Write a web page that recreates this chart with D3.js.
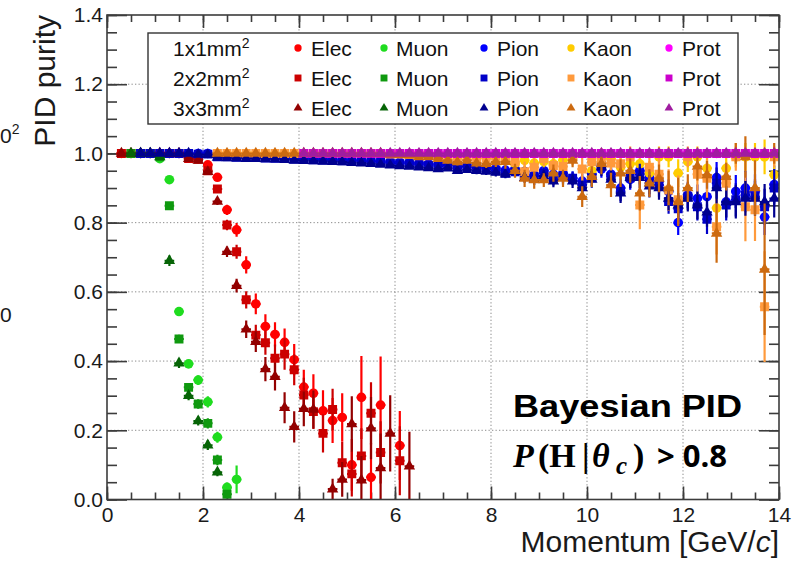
<!DOCTYPE html>
<html>
<head>
<meta charset="utf-8">
<script src="https://cdn.jsdelivr.net/npm/d3@7"></script>
<style>
  html, body { margin: 0; padding: 0; background: #fff; }
  svg { display: block; }
  text { font-family: "Liberation Sans", Arial, Helvetica, sans-serif; }
</style>
</head>
<body>
<svg id="chart" width="794" height="562"></svg>
<script>
// ---- Momentum bins (bin centres, GeV/c) ----
const momentum = [0.3,0.5,0.7,0.9,1.1,1.3,1.5,1.7,1.9,2.1,
  2.3,2.5,2.7,2.9,3.1,3.3,3.5,3.7,3.9,4.1,
  4.3,4.5,4.7,4.9,5.1,5.3,5.5,5.7,5.9,6.1,
  6.3,6.5,6.7,6.9,7.1,7.3,7.5,7.7,7.9,8.1,
  8.3,8.5,8.7,8.9,9.1,9.3,9.5,9.7,9.9,10.1,
  10.3,10.5,10.7,10.9,11.1,11.3,11.5,11.7,11.9,12.1,
  12.3,12.5,12.7,12.9,13.1,13.3,13.5,13.7,13.9];
const binWidth = 0.2;

const particles = ["Elec", "Muon", "Pion", "Kaon", "Prot"];
const pixelSizes = ["1x1", "2x2", "3x3"];

// ---- Electron purity ----
const elec1x1 = [1,1,1,1,1,1,1,0.99,0.985,0.967,
  0.931,0.837,0.779,0.678,0.565,0.50,0.477,0.454,0.404,0.325,
  0.307,0.256,0.228,0.237,0.10,0.295,0.064,0.273,null,0.156];
const elec1x1Err = [0,0,0,0,0,0,0,0.004,0.005,0.008,
  0.01,0.015,0.02,0.025,0.03,0.035,0.035,0.04,0.045,0.05,
  0.055,0.06,0.065,0.07,0.075,0.12,0.1,0.14,null,0.1];
const elec2x2 = [1,1,1,1,1,1,1,0.985,0.983,0.95,
  0.897,0.793,0.716,0.577,0.475,0.453,0.408,0.42,0.375,0.302,
  0.254,0.191,0.26,0.106,0.074,0.126,0.249,0.136,null,0.112];
const elec2x2Err = [0,0,0,0,0,0,0,0.004,0.005,0.008,
  0.01,0.015,0.02,0.025,0.03,0.035,0.04,0.045,0.045,0.05,
  0.05,0.055,0.06,0.06,0.065,0.08,0.09,0.09,null,0.1];
const elec3x3 = [1,1,1,1,1,1,1,0.985,0.98,0.947,
  0.861,0.716,0.618,0.492,0.456,0.377,0.355,0.265,0.21,0.262,
  0.26,null,0.03,0.058,0.218,0.056,0.206,0.091,0.191,null,
  0.096];
const elec3x3Err = [0,0,0,0,0,0,0,0.004,0.005,0.008,
  0.01,0.015,0.02,0.025,0.03,0.035,0.04,0.045,0.045,0.05,
  0.055,null,0.03,0.05,0.08,0.07,0.09,0.1,0.11,null,
  0.1];

// ---- Muon purity ----
const muon1x1 = [null,1,1,1,0.985,0.924,0.543,0.392,0.345,0.282,
  0.18,0.035,0.058];
const muon1x1Err = [null,0,0,0,0.004,0.008,0.012,0.012,0.014,0.016,
  0.016,0.014,0.04];
const muon2x2 = [null,1,1,1,0.99,0.849,0.464,0.324,0.276,0.22,
  0.114,0.015];
const muon2x2Err = [null,0,0,0,0.003,0.01,0.012,0.012,0.014,0.015,
  0.015,0.012];
const muon3x3 = [null,1,1,1,0.99,0.69,0.394,0.30,0.227,0.157,
  0.079];
const muon3x3Err = [null,0,0,0,0.003,0.015,0.014,0.013,0.013,0.014,
  0.012];

// ---- Pion purity ----
const pion1x1 = [null,null,1,1,1,1,1,1,1,1,
  0.995,0.993,0.992,0.991,0.99,0.99,0.989,0.988,0.987,0.986,
  0.985,0.984,0.983,0.982,0.981,0.98,0.979,0.978,0.976,0.975,
  0.973,0.972,0.97,0.968,0.967,0.965,0.963,0.962,0.96,0.957,
  0.952,0.955,0.948,0.938,0.95,0.94,0.942,0.928,0.92,0.94,
  0.955,0.94,0.9,0.925,0.95,0.93,0.92,0.89,0.80,0.88,
  0.87,0.875,0.93,0.86,0.89,0.9,0.89,0.816,0.91];
const pion1x1Err = [null,null,0.002,0.002,0.002,0.002,0.002,0.002,0.002,0.002,
  0.003,0.003,0.003,0.003,0.003,0.003,0.003,0.003,0.003,0.003,
  0.003,0.003,0.004,0.004,0.004,0.004,0.005,0.005,0.005,0.005,
  0.006,0.006,0.007,0.007,0.008,0.008,0.009,0.01,0.01,0.012,
  0.012,0.014,0.015,0.016,0.017,0.018,0.02,0.02,0.022,0.024,
  0.025,0.026,0.028,0.03,0.03,0.032,0.034,0.035,0.036,0.038,
  0.04,0.042,0.045,0.045,0.048,0.05,0.05,0.052,0.055];
const pion2x2 = [null,null,1,1,1,1,1,1,0.998,0.998,
  0.99,0.99,0.989,0.988,0.988,0.987,0.986,0.985,0.984,0.983,
  0.982,0.981,0.98,0.979,0.978,0.977,0.976,0.974,0.972,0.970,
  0.970,0.967,0.965,0.962,0.965,0.958,0.962,0.957,0.955,0.950,
  0.943,0.947,0.935,0.933,0.943,0.925,0.935,0.928,0.909,0.930,
  0.965,0.933,0.890,0.930,0.940,0.914,0.909,0.861,0.840,0.875,
  0.846,0.810,0.914,0.851,0.866,0.880,0.875,0.846,0.900];
const pion2x2Err = [null,null,0.002,0.002,0.002,0.002,0.002,0.002,0.002,0.002,
  0.003,0.003,0.003,0.003,0.003,0.003,0.003,0.003,0.003,0.003,
  0.003,0.003,0.004,0.004,0.004,0.004,0.005,0.005,0.005,0.005,
  0.006,0.006,0.007,0.007,0.008,0.008,0.009,0.01,0.01,0.012,
  0.012,0.014,0.015,0.016,0.017,0.018,0.02,0.02,0.022,0.024,
  0.025,0.026,0.028,0.03,0.03,0.032,0.034,0.035,0.036,0.038,
  0.04,0.043,0.045,0.045,0.048,0.05,0.05,0.052,0.055];
const pion3x3 = [null,null,1,1,1,1,1,1,0.997,0.996,
  0.988,0.987,0.986,0.985,0.985,0.984,0.983,0.982,0.98,0.979,
  0.978,0.977,0.976,0.975,0.973,0.972,0.97,0.968,0.966,0.964,
  0.962,0.96,0.958,0.955,0.957,0.95,0.953,0.95,0.948,0.945,
  0.94,0.947,0.93,0.925,0.935,0.92,0.93,0.92,0.9,0.925,
  0.96,0.925,0.885,0.93,0.93,0.905,0.9,0.87,0.85,0.87,
  0.85,0.83,0.9,0.86,0.86,0.87,0.87,0.86,0.87];
const pion3x3Err = [null,null,0.002,0.002,0.002,0.002,0.002,0.002,0.002,0.002,
  0.003,0.003,0.003,0.003,0.003,0.003,0.003,0.003,0.003,0.003,
  0.003,0.003,0.004,0.004,0.004,0.004,0.005,0.005,0.005,0.005,
  0.006,0.006,0.007,0.007,0.008,0.008,0.009,0.01,0.01,0.012,
  0.012,0.014,0.015,0.016,0.017,0.018,0.02,0.02,0.022,0.024,
  0.025,0.026,0.028,0.03,0.03,0.032,0.034,0.035,0.036,0.038,
  0.04,0.042,0.045,0.045,0.048,0.05,0.05,0.052,0.055];

// ---- Kaon purity ----
const kaon1x1 = [null,null,null,null,null,null,null,null,null,null,
  1,1,1,1,1,1,1,1,1,1,
  1,1,1,1,1,1,1,1,1,1,
  1,1,1,0.998,0.998,0.995,0.995,0.993,0.99,0.99,
  0.99,0.97,0.98,0.972,0.976,0.97,0.98,0.99,0.904,0.95,
  0.99,0.985,0.96,0.97,0.97,0.943,0.99,0.99,0.943,0.976,
  0.99,0.957,0.842,0.957,0.99,0.99,0.99,0.99,0.938];
const kaon1x1Err = [null,null,null,null,null,null,null,null,null,null,
  0.002,0.002,0.002,0.002,0.002,0.002,0.002,0.002,0.002,0.002,
  0.002,0.002,0.002,0.002,0.002,0.002,0.002,0.002,0.003,0.003,
  0.004,0.004,0.005,0.005,0.006,0.006,0.007,0.008,0.008,0.01,
  0.012,0.015,0.02,0.02,0.02,0.022,0.025,0.02,0.03,0.03,
  0.02,0.025,0.035,0.03,0.03,0.035,0.03,0.03,0.04,0.03,
  0.03,0.04,0.06,0.04,0.03,0.04,0.04,0.05,0.05];
const kaon2x2 = [null,null,null,null,null,null,null,null,null,null,
  1,1,1,1,1,1,1,1,1,1,
  1,1,1,1,1,1,1,1,0.998,0.998,
  0.997,0.995,0.995,0.993,0.99,0.985,0.99,0.985,0.986,0.99,
  0.98,0.976,0.947,0.96,0.985,0.965,0.962,0.986,0.955,0.976,
  0.985,0.972,0.97,0.99,0.851,0.96,0.94,0.894,0.866,0.99,
  0.94,0.928,0.788,0.914,0.99,0.846,0.837,0.557,0.99];
const kaon2x2Err = [null,null,null,null,null,null,null,null,null,null,
  0.002,0.002,0.002,0.002,0.002,0.002,0.002,0.002,0.002,0.002,
  0.002,0.002,0.002,0.002,0.002,0.002,0.002,0.002,0.004,0.004,
  0.005,0.006,0.006,0.007,0.008,0.01,0.01,0.012,0.012,0.012,
  0.015,0.018,0.03,0.025,0.02,0.025,0.03,0.02,0.035,0.03,
  0.03,0.035,0.04,0.03,0.07,0.05,0.05,0.06,0.07,0.03,
  0.06,0.06,0.08,0.06,0.04,0.1,0.09,0.16,0.03];
const kaon3x3 = [null,null,null,null,null,null,null,null,null,null,
  1,1,1,1,1,1,1,1,1,1,
  1,1,1,1,1,1,1,1,0.997,0.996,
  0.995,0.99,0.99,0.985,0.98,0.975,0.98,0.972,0.97,0.975,
  0.976,0.95,0.928,0.923,0.923,0.943,0.928,0.98,0.875,0.933,
  0.97,0.909,0.943,0.95,0.885,0.914,0.928,0.9,0.86,0.9,
  0.962,0.938,0.769,0.933,1,0.99,0.9,0.665,1];
const kaon3x3Err = [null,null,null,null,null,null,null,null,null,null,
  0.002,0.002,0.002,0.002,0.002,0.002,0.002,0.002,0.002,0.002,
  0.002,0.002,0.002,0.002,0.002,0.002,0.002,0.002,0.004,0.004,
  0.006,0.007,0.008,0.008,0.009,0.01,0.01,0.012,0.012,0.014,
  0.02,0.02,0.025,0.025,0.02,0.025,0.025,0.02,0.03,0.03,
  0.03,0.035,0.04,0.035,0.05,0.04,0.04,0.05,0.07,0.04,
  0.04,0.04,0.085,0.04,0.03,0.06,0.08,0.19,0.03];

// ---- Proton purity ----
const prot1x1 = [null,null,null,null,null,null,null,null,null,null,
  null,null,null,null,null,null,null,null,null,1,
  1,1,1,1,1,1,1,1,1,1,
  1,1,1,1,1,1,1,1,1,1,
  1,1,1,1,1,1,1,1,1,1,
  1,1,1,1,1,1,1,1,1,1,
  1,1,1,1,1,1,1,1,1];
const prot2x2 = [null,null,null,null,null,null,null,null,null,null,
  null,null,null,null,null,null,null,null,null,1,
  1,1,1,1,1,1,1,1,1,1,
  1,1,1,1,1,1,1,1,1,1,
  1,1,1,1,1,1,1,1,1,1,
  1,1,1,1,1,1,1,1,1,1,
  1,1,1,1,1,1,1,1,1];
const prot3x3 = [null,null,null,null,null,null,null,null,null,null,
  null,null,null,null,null,null,null,null,null,1,
  1,1,1,1,1,1,1,1,1,1,
  1,1,1,1,1,1,1,1,1,1,
  1,1,1,1,1,1,1,1,1,1,
  1,1,1,1,1,1,1,1,1,1,
  1,1,1,1,1,1,1,1,1];

// ---- Axis ticks ----
const xTicks = [0, 2, 4, 6, 8, 10, 12, 14];
const yTicks = [0, 0.2, 0.4, 0.6, 0.8, 1.0, 1.2, 1.4];
const xGridValues = [2, 4, 6, 8, 10, 12];
const yGridValues = [0.2, 0.4, 0.6, 0.8, 1.0, 1.2];

// Colour per particle (rows) and pixel size (columns)
const palette = [
  ["#ff0000", "#cc0000", "#930000"],   // Elec
  ["#1fdc1f", "#0f990f", "#066406"],   // Muon
  ["#0000ff", "#0000c8", "#00008f"],   // Pion
  ["#ffcc00", "#ff9a3c", "#cc6a10"],   // Kaon
  ["#ff00ff", "#cc00cc", "#a01ca0"]    // Prot
];
const symbolTypes = [d3.symbolCircle, d3.symbolSquare, d3.symbolTriangle];
const plotSymbolSize = [72, 80, 56];
const legendSymbolSize = [42, 48, 34];

const valueTable = [
  [elec1x1, elec2x2, elec3x3],
  [muon1x1, muon2x2, muon3x3],
  [pion1x1, pion2x2, pion3x3],
  [kaon1x1, kaon2x2, kaon3x3],
  [prot1x1, prot2x2, prot3x3]
];
const errorTable = [
  [elec1x1Err, elec2x2Err, elec3x3Err],
  [muon1x1Err, muon2x2Err, muon3x3Err],
  [pion1x1Err, pion2x2Err, pion3x3Err],
  [kaon1x1Err, kaon2x2Err, kaon3x3Err],
  [null, null, null]
];

// ---- Layout ----
const svg = d3.select("#chart");
const x = d3.scaleLinear().domain([0, 14]).range([107, 779]);
const y = d3.scaleLinear().domain([0, 1.4]).range([499.5, 15]);
const frameColor = "#3c3c3c";

svg.append("defs").append("clipPath").attr("id", "frame-clip")
  .append("rect")
  .attr("x", x(0)).attr("y", y(1.4))
  .attr("width", x(14) - x(0)).attr("height", y(0) - y(1.4));

// Dotted grid
const grid = svg.append("g")
  .attr("stroke", "#8c8c8c").attr("stroke-width", 1).attr("stroke-dasharray", "1.3,2.2");
grid.selectAll("line.gx").data(xGridValues).join("line").attr("class", "gx")
  .attr("x1", d => x(d)).attr("x2", d => x(d)).attr("y1", y(0)).attr("y2", y(1.4));
grid.selectAll("line.gy").data(yGridValues).join("line").attr("class", "gy")
  .attr("x1", x(0)).attr("x2", x(14)).attr("y1", d => y(d)).attr("y2", d => y(d));

// Inward ticks on all four sides
const yMinor = d3.range(0, 1.4001, 0.05);
const xMinor = d3.range(0, 14.001, 0.5);
function styleAxis(g) {
  g.select(".domain").remove();
  g.selectAll(".tick line").attr("stroke", frameColor).attr("stroke-width", 1.6);
  g.selectAll(".tick text").attr("fill", "#1a1a1a").attr("font-size", 21)
    .attr("font-family", "'Liberation Sans', Arial, sans-serif");
}
svg.append("g").attr("transform", `translate(${x(0)},0)`)
  .call(d3.axisLeft(y).tickValues(yMinor).tickSize(-10).tickFormat("")).call(styleAxis);
svg.append("g").attr("transform", `translate(${x(0)},0)`)
  .call(d3.axisLeft(y).tickValues(yTicks).tickSize(-20).tickPadding(4).tickFormat(d3.format(".1f")))
  .call(styleAxis);
svg.append("g").attr("transform", `translate(${x(14)},0)`)
  .call(d3.axisRight(y).tickValues(yMinor).tickSize(-10).tickFormat("")).call(styleAxis);
svg.append("g").attr("transform", `translate(${x(14)},0)`)
  .call(d3.axisRight(y).tickValues(yTicks).tickSize(-20).tickFormat("")).call(styleAxis);
svg.append("g").attr("transform", `translate(0,${y(0)})`)
  .call(d3.axisBottom(x).tickValues(xMinor).tickSize(-7).tickFormat("")).call(styleAxis);
svg.append("g").attr("transform", `translate(0,${y(0)})`)
  .call(d3.axisBottom(x).tickValues(xTicks).tickSize(-13).tickPadding(8).tickFormat(d3.format("d")))
  .call(styleAxis);
svg.append("g").attr("transform", `translate(0,${y(1.4)})`)
  .call(d3.axisTop(x).tickValues(xMinor).tickSize(-7).tickFormat("")).call(styleAxis);
svg.append("g").attr("transform", `translate(0,${y(1.4)})`)
  .call(d3.axisTop(x).tickValues(xTicks).tickSize(-13).tickFormat("")).call(styleAxis);

// ---- Data points: drawn pixel size by pixel size, particle by particle ----
const plot = svg.append("g").attr("clip-path", "url(#frame-clip)");
pixelSizes.forEach((size, si) => {
  particles.forEach((name, pi) => {
    const vals = valueTable[pi][si];
    const errs = errorTable[pi][si];
    const color = palette[pi][si];
    const pts = [];
    vals.forEach((v, i) => {
      if (v !== null && v !== undefined) pts.push({ p: momentum[i], v: v, e: errs ? errs[i] : 0 });
    });
    const g = plot.append("g").attr("class", `series ${name}-${size}`);
    g.selectAll("line.xerr").data(pts).join("line").attr("class", "xerr")
      .attr("x1", d => x(d.p - binWidth / 2)).attr("x2", d => x(d.p + binWidth / 2))
      .attr("y1", d => y(d.v)).attr("y2", d => y(d.v))
      .attr("stroke", color).attr("stroke-width", 2);
    g.selectAll("line.yerr").data(pts.filter(d => d.e > 0)).join("line").attr("class", "yerr")
      .attr("x1", d => x(d.p)).attr("x2", d => x(d.p))
      .attr("y1", d => y(d.v - d.e)).attr("y2", d => y(d.v + d.e))
      .attr("stroke", color).attr("stroke-width", 2.2);
    g.selectAll("path.mk").data(pts).join("path").attr("class", "mk")
      .attr("transform", d => `translate(${x(d.p)},${y(d.v)})`)
      .attr("d", d3.symbol().type(symbolTypes[si]).size(plotSymbolSize[si]))
      .attr("fill", color);
  });
});

// Frame
svg.append("rect")
  .attr("x", x(0)).attr("y", y(1.4))
  .attr("width", x(14) - x(0)).attr("height", y(0) - y(1.4))
  .attr("fill", "none").attr("stroke", frameColor).attr("stroke-width", 1.6);

// ---- Legend ----
const legend = svg.append("g");
legend.append("rect").attr("x", 148).attr("y", 33).attr("width", 590).attr("height", 91)
  .attr("fill", "#fff").attr("stroke", "#333").attr("stroke-width", 1.4);
const legendRows = [48, 78, 108];
const legendMarkerX = [298, 384, 484, 571, 669];
const legendTextX = [311, 396, 497, 583, 682];
pixelSizes.forEach((size, si) => {
  const cy = legendRows[si];
  const t = legend.append("text").attr("x", 173).attr("y", cy + 7.5)
    .attr("font-size", 21).attr("fill", "#111");
  t.append("tspan").text(size + "mm");
  t.append("tspan").attr("font-size", 14).attr("dy", -8).text("2");
  particles.forEach((name, pi) => {
    legend.append("path")
      .attr("transform", `translate(${legendMarkerX[pi]},${cy})`)
      .attr("d", d3.symbol().type(symbolTypes[si]).size(legendSymbolSize[si]))
      .attr("fill", palette[pi][si]);
    legend.append("text").attr("x", legendTextX[pi]).attr("y", cy + 7.5)
      .attr("font-size", 21).attr("fill", "#111").text(name);
  });
});

// ---- Axis titles ----
svg.append("text")
  .attr("transform", "translate(55,15) rotate(-90)")
  .attr("text-anchor", "end").attr("font-size", 30).attr("fill", "#1a1a1a")
  .text("PID purity");
const xt = svg.append("text")
  .attr("x", 779).attr("y", 552).attr("text-anchor", "end")
  .attr("font-size", 30).attr("fill", "#1a1a1a");
xt.append("tspan").text("Momentum [GeV/");
xt.append("tspan").attr("font-style", "italic").text("c");
xt.append("tspan").text("]");

// ---- Annotation ----
svg.append("text")
  .attr("x", 513).attr("y", 417)
  .attr("font-family", "'Open Sans', sans-serif").attr("font-weight", 700)
  .attr("font-size", 31).attr("textLength", 229).attr("lengthAdjust", "spacingAndGlyphs")
  .attr("fill", "#000").text("Bayesian PID");
const cond = svg.append("text").attr("y", 467).attr("fill", "#000");
const serif = "'Liberation Serif', 'DejaVu Serif', serif";
cond.append("tspan").attr("x", 513).attr("font-family", serif).attr("font-style", "italic")
  .attr("font-weight", 700).attr("font-size", 34).text("P");
cond.append("tspan").attr("x", 538).attr("font-family", serif).attr("font-weight", 700)
  .attr("font-size", 34).text("(H");
cond.append("tspan").attr("x", 582).attr("font-family", serif).attr("font-weight", 700)
  .attr("font-size", 34).text("|");
cond.append("tspan").attr("x", 592).attr("font-family", serif).attr("font-style", "italic")
  .attr("font-weight", 700).attr("font-size", 34).text("θ");
cond.append("tspan").attr("x", 616).attr("dy", 7).attr("font-family", serif).attr("font-style", "italic")
  .attr("font-weight", 700).attr("font-size", 25).text("c");
cond.append("tspan").attr("x", 633).attr("dy", -7).attr("font-family", serif).attr("font-weight", 700)
  .attr("font-size", 34).text(")");
cond.append("tspan").attr("x", 657).attr("font-family", "'Open Sans', sans-serif").attr("font-weight", 700)
  .attr("font-size", 31).text("> 0.8");

// ---- Fragments of neighbouring panels at the left edge ----
const edge = svg.append("text").attr("x", 0).attr("y", 143).attr("font-size", 21).attr("fill", "#1a1a1a");
edge.append("tspan").text("0");
edge.append("tspan").attr("font-size", 14).attr("dy", -9).text("2");
svg.append("text").attr("x", 0).attr("y", 322).attr("font-size", 21).attr("fill", "#1a1a1a").text("0");
</script>
</body>
</html>
